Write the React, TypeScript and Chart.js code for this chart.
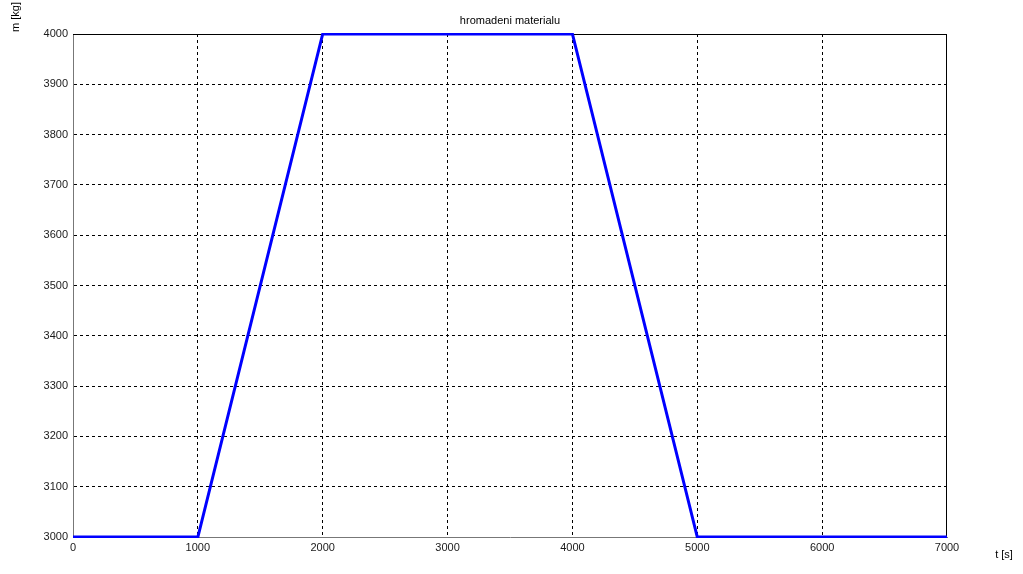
import React, { useEffect, useRef } from "react";
import { Chart, registerables } from "chart.js";

Chart.register(...registerables);

const timeValues = [0, 1000, 2000, 4000, 5000, 7000];
const massValues = [3000, 3000, 4000, 4000, 3000, 3000];
const chartTitle = "hromadeni materialu";
const xLabel = "t [s]";
const yLabel = "m [kg]";

const FONT = "'Liberation Sans', Arial, sans-serif";

const framePlugin = {
  id: "frame",
  beforeDatasetsDraw(chart: any) {
    const { ctx, chartArea } = chart;
    const { left, right, top, bottom } = chartArea;
    ctx.save();
    ctx.setLineDash([]);
    ctx.strokeStyle = "#000";
    ctx.lineWidth = 1;
    ctx.beginPath();
    ctx.moveTo(left, Math.round(top) + 0.5);
    ctx.lineTo(right, Math.round(top) + 0.5);
    ctx.moveTo(Math.round(right) - 0.5, top);
    ctx.lineTo(Math.round(right) - 0.5, bottom);
    ctx.stroke();
    ctx.restore();
  },
  afterDraw(chart: any) {
    const { ctx, chartArea } = chart;
    const { left, right } = chartArea;
    ctx.save();
    ctx.fillStyle = "#000";
    ctx.font = `11px ${FONT}`;
    ctx.textAlign = "center";
    ctx.textBaseline = "middle";
    ctx.fillText(chartTitle, (left + right) / 2, 21);
    ctx.fillText(xLabel, 1004, 555);
    ctx.translate(16, 17);
    ctx.rotate(-Math.PI / 2);
    ctx.fillText(yLabel, 0, 0);
    ctx.restore();
  },
};

const gridColor = (ctx: any) => {
  const v = ctx.tick?.value;
  const s = ctx.scale;
  if (v === s.min || v === s.max) return "rgba(0,0,0,0)";
  return "#000";
};

export default function App() {
  const ref = useRef<HTMLCanvasElement | null>(null);
  useEffect(() => {
    document.body.style.margin = "0";
    const chart = new Chart(ref.current!, {
      type: "line",
      data: {
        datasets: [
          {
            data: timeValues.map((t, i) => ({ x: t, y: massValues[i] })),
            borderColor: "#0000ff",
            borderWidth: 3,
            pointRadius: 0,
            tension: 0,
            fill: false,
            clip: 1,
          },
        ],
      },
      options: {
        animation: false,
        responsive: false,
        maintainAspectRatio: false,
        layout: { padding: { top: 34, right: 76, left: 0, bottom: 0 } },
        plugins: { legend: { display: false }, tooltip: { enabled: false }, title: { display: false } },
        scales: {
          x: {
            type: "linear",
            min: 0,
            max: 7000,
            afterFit: (s: any) => { s.height = 37; },
            ticks: {
              stepSize: 1000,
              color: "#1a1a1a",
              font: { family: FONT, size: 11 },
              padding: 4,
              maxRotation: 0,
              callback: (v: any) => String(v),
            },
            grid: { color: gridColor, drawTicks: false },
            border: { display: true, color: "#777", dash: [3, 3] },
          },
          y: {
            type: "linear",
            min: 3000,
            max: 4000,
            afterFit: (s: any) => { s.width = 73; },
            ticks: {
              stepSize: 100,
              color: "#1a1a1a",
              font: { family: FONT, size: 11 },
              padding: 5,
              callback: (v: any) => String(v),
            },
            grid: { color: gridColor, drawTicks: false },
            border: { display: true, color: "#777", dash: [3, 3] },
          },
        },
      } as any,
      plugins: [framePlugin],
    });
    return () => chart.destroy();
  }, []);
  return (
    <div style={{ position: "fixed", left: 0, top: 0, width: 1023, height: 574, background: "#fff" }}>
      <canvas ref={ref} width={1023} height={574} style={{ width: 1023, height: 574 }} />
    </div>
  );
}
